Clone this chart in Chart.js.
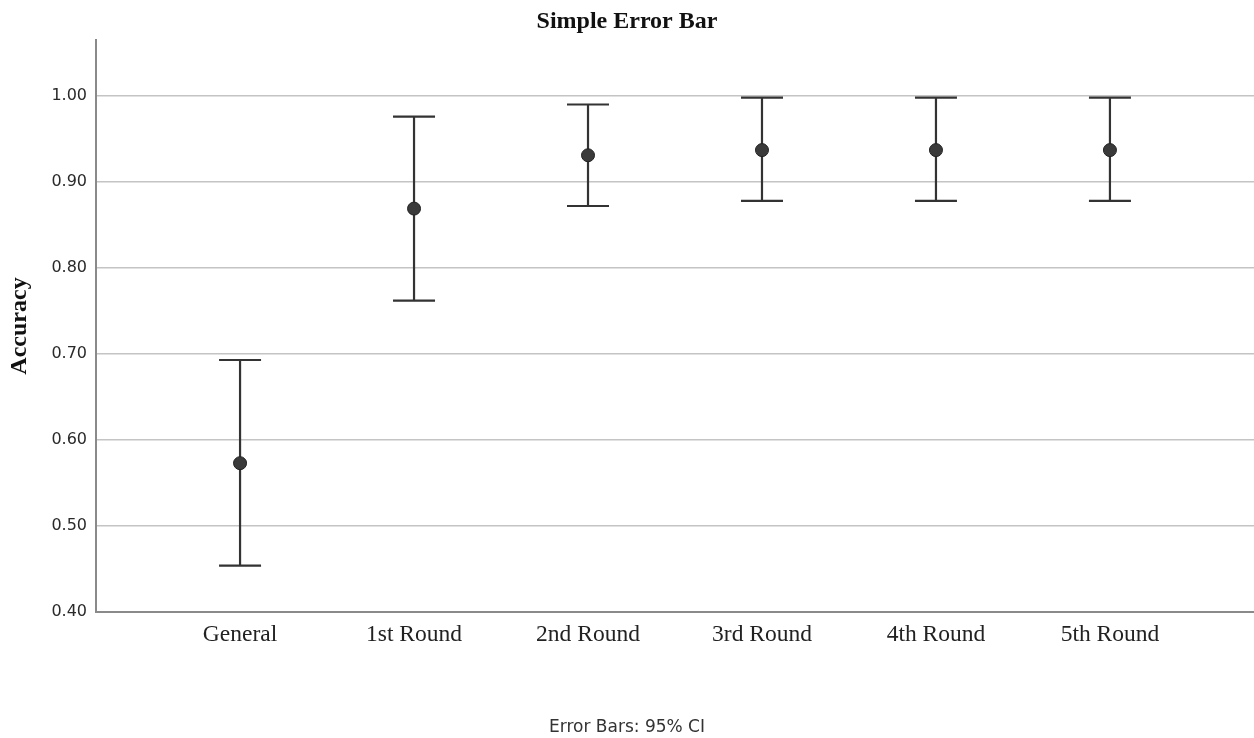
<!DOCTYPE html>
<html>
<head>
<meta charset="utf-8">
<script src="https://cdn.jsdelivr.net/npm/chart.js@4.4.1/dist/chart.umd.min.js"></script>
<style>
  html, body { margin: 0; padding: 0; background: #fff; }
  #wrap { width: 1254px; height: 738px; }
</style>
</head>
<body>
<div id="wrap"><canvas id="chart"></canvas></div>
<script>
// --- data ---
const categories = ['General', '1st Round', '2nd Round', '3rd Round', '4th Round', '5th Round'];
const means = [0.573, 0.869, 0.931, 0.937, 0.937, 0.937];
const upperCI = [0.693, 0.976, 0.990, 0.998, 0.998, 0.998];
const lowerCI = [0.454, 0.762, 0.872, 0.878, 0.878, 0.878];
const yTickValues = [0.40, 0.50, 0.60, 0.70, 0.80, 0.90, 1.00];

const markColor = '#333333';
const serif = '"Liberation Serif", "Times New Roman", serif';
const sans = '"DejaVu Sans", Verdana, sans-serif';

// whiskers + caps, drawn under the points
const errorBars = {
    id: 'errorBars',
    beforeDatasetsDraw(chart) {
        const { ctx, scales: { x, y } } = chart;
        const capHalf = 21;
        ctx.save();
        ctx.strokeStyle = markColor;
        ctx.lineWidth = 2.2;
        categories.forEach((c, i) => {
            const px = x.getPixelForValue(i + 1);
            const top = y.getPixelForValue(upperCI[i]);
            const bot = y.getPixelForValue(lowerCI[i]);
            ctx.beginPath();
            ctx.moveTo(px, top);
            ctx.lineTo(px, bot);
            ctx.moveTo(px - capHalf, top);
            ctx.lineTo(px + capHalf, top);
            ctx.moveTo(px - capHalf, bot);
            ctx.lineTo(px + capHalf, bot);
            ctx.stroke();
        });
        ctx.restore();
    }
};

new Chart(document.getElementById('chart'), {
    type: 'scatter',
    data: {
        datasets: [{
            data: means.map((m, i) => ({ x: i + 1, y: m })),
            backgroundColor: '#3a3a3a',
            borderColor: '#222',
            borderWidth: 1,
            pointRadius: 6.5,
            pointHoverRadius: 6.5
        }]
    },
    options: {
        responsive: true,
        maintainAspectRatio: false,
        animation: false,
        layout: { padding: 0, autoPadding: false },
        plugins: {
            legend: { display: false },
            tooltip: { enabled: false },
            title: {
                display: true,
                text: 'Simple Error Bar',
                color: '#111',
                font: { family: serif, size: 24, weight: 'bold' },
                padding: { top: 7.4, bottom: 3.8 }
            },
            subtitle: {
                display: true,
                position: 'bottom',
                text: 'Error Bars: 95% CI',
                color: '#333',
                font: { family: sans, size: 17 },
                padding: { top: 45.6, bottom: 0 }
            }
        },
        scales: {
            x: {
                type: 'linear',
                min: 0.172,
                max: 6.828,
                afterBuildTicks: (s) => { s.ticks = categories.map((c, i) => ({ value: i + 1 })); },
                afterFit: (s) => { s.height = 60; },
                grid: { display: false, drawTicks: false },
                border: { display: true, color: '#8a8a8a', width: 2 },
                ticks: {
                    padding: 9,
                    color: '#222',
                    font: { family: serif, size: 23.5 },
                    callback: (v) => categories[v - 1] ?? ''
                }
            },
            y: {
                min: 0.40,
                max: 1.065,
                afterBuildTicks: (s) => { s.ticks = yTickValues.map(v => ({ value: v })); },
                afterFit: (s) => { s.width = 96; },
                grid: { color: '#c4c4c4', lineWidth: 1.5, drawTicks: false },
                border: { display: true, color: '#8a8a8a', width: 2 },
                ticks: {
                    padding: 9,
                    color: '#2a2a2a',
                    font: { family: sans, size: 16 },
                    callback: (v) => v.toFixed(2)
                },
                title: {
                    display: true,
                    text: 'Accuracy',
                    color: '#111',
                    font: { family: serif, size: 24, weight: 'bold' },
                    padding: { top: 5, bottom: 0 }
                }
            }
        }
    },
    plugins: [errorBars]
});
</script>
</body>
</html>
